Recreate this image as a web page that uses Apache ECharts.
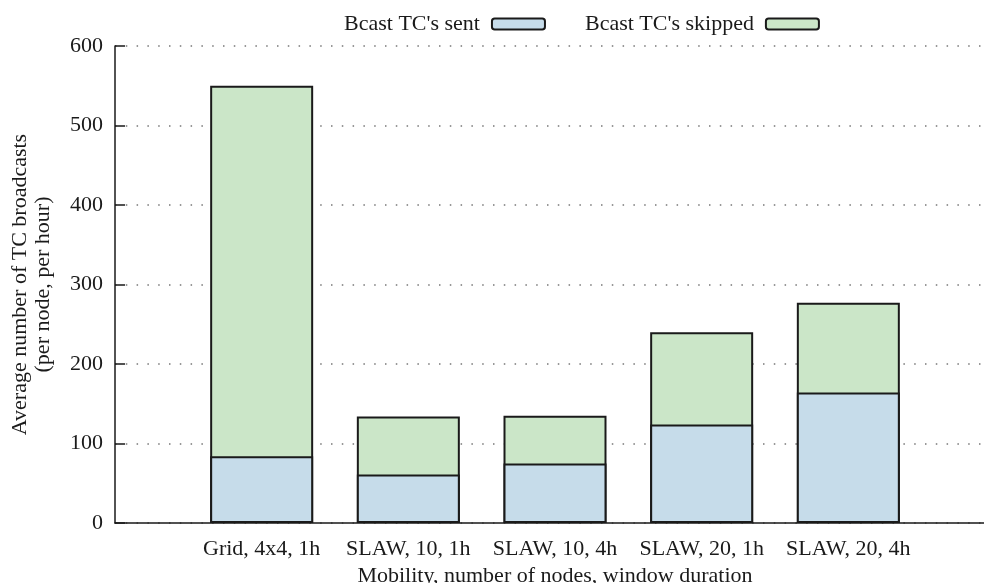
<!DOCTYPE html>
<html>
<head>
<meta charset="utf-8">
<script src="https://cdn.jsdelivr.net/npm/echarts@6/dist/echarts.min.js"></script>
<style>html,body{margin:0;padding:0;background:#fff}#c{width:984px;height:583px}</style>
</head>
<body>
<div id="c"></div>
<script>
const categories = ["Grid, 4x4, 1h", "SLAW, 10, 1h", "SLAW, 10, 4h", "SLAW, 20, 1h", "SLAW, 20, 4h"];
const sentValues = [84, 61, 75, 124, 164];
const totalValues = [550, 134, 135, 240, 277];   // sent + skipped (top of each stack)
const yTicks = [0, 100, 200, 300, 400, 500, 600];

const FONT = "Liberation Serif";
const chart = echarts.init(document.getElementById('c'));
const txt = { fontFamily: FONT, fontSize: 22, color: '#1a1a1a' };

// one empty slot on each side of the categories (x range -1 .. 5)
const xCats = [''].concat(categories, ['']);
const pad = arr => [null].concat(arr, [null]);

chart.setOption({
  animation: false,
  textStyle: { fontFamily: FONT },
  grid: { left: 115, right: -11, top: 46, bottom: 60, containLabel: false, outerBoundsMode: 'none' },
  legend: {
    left: 339, top: 8, align: 'right', itemWidth: 53, itemHeight: 11, itemGap: 39,
    icon: 'roundRect',
    textStyle: Object.assign({}, txt, { padding: [0, 7, 0, 0] }),
    data: ["Bcast TC's sent", "Bcast TC's skipped"]
  },
  xAxis: {
    type: 'category', data: xCats, boundaryGap: false,
    axisLine: { show: true, onZero: false, lineStyle: { color: '#1a1a1a', width: 1.5 } },
    axisTick: { show: false },
    splitLine: { show: false },
    axisLabel: Object.assign({}, txt, { margin: 15, interval: 0 }),
    name: 'Mobility, number of nodes, window duration',
    nameLocation: 'middle', nameGap: 31,
    nameTextStyle: Object.assign({}, txt, { lineHeight: 22 })
  },
  yAxis: {
    type: 'value', min: yTicks[0], max: yTicks[yTicks.length - 1], interval: 100,
    axisLine: { show: true, onZero: false, lineStyle: { color: '#1a1a1a', width: 1.5 } },
    axisTick: { show: true, inside: true, length: 10, lineStyle: { color: '#1a1a1a', width: 1.5 } },
    splitLine: { show: true, lineStyle: { color: '#777', width: 1.5, type: [1.5, 9.3] } },
    axisLabel: Object.assign({}, txt, { margin: 12 }),
    name: 'Average number of TC broadcasts\n(per node, per hour)',
    nameLocation: 'middle', nameGap: 60, nameRotate: 90,
    nameTextStyle: Object.assign({}, txt, { lineHeight: 23, align: 'center' })
  },
  series: [
    {
      name: "Bcast TC's skipped", type: 'bar', barWidth: 103, barGap: '-100%', z: 2,
      itemStyle: { color: '#cbe6c8', borderColor: '#1a1a1a', borderWidth: 2 },
      data: pad(totalValues)
    },
    {
      name: "Bcast TC's sent", type: 'bar', barWidth: 103, barGap: '-100%', z: 3,
      itemStyle: { color: '#c6dcea', borderColor: '#1a1a1a', borderWidth: 2 },
      data: pad(sentValues)
    }
  ]
});
</script>
</body>
</html>
